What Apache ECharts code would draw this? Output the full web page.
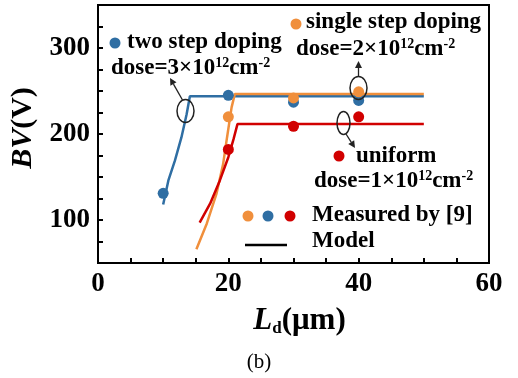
<!DOCTYPE html>
<html>
<head>
<meta charset="utf-8">
<script src="https://cdn.jsdelivr.net/npm/echarts@6/dist/echarts.min.js"></script>
<style>
  html, body { margin: 0; padding: 0; background: #fff; }
  #chart { width: 518px; height: 378px; }
</style>
</head>
<body>
<div id="chart"></div>
<script>
// measured breakdown voltage, [Ld (um), BV (V)]
const twoStepMeasured = [[10, 131], [20, 245], [30, 237], [40, 239]]
const singleStepMeasured = [[20, 220], [30, 242], [40, 249]]
const uniformMeasured = [[20, 182], [30, 209], [40, 220]]

// model curves
const twoStepModel = [[10, 118], [10.8, 146], [11.8, 169], [12.8, 196], [13.6, 223], [14.1, 244], [50, 244]]
const singleStepModel = [[15.1, 66], [16.7, 96], [18.2, 131], [19.2, 165], [19.8, 196], [20.5, 231], [21, 246.5], [50, 246.5]]
const uniformModel = [[15.6, 97], [17.2, 119], [18.7, 146], [20, 173], [20.8, 194], [21.4, 211.5], [50, 211.5]]

const xTicks = [0, 20, 40, 60]
const yTicks = [100, 200, 300]

const BLUE = '#2f6ea3'
const ORANGE = '#f08f3c'
const RED = '#d10000'
const FONT = '"Liberation Serif", "Times New Roman", serif'

const chart = echarts.init(document.getElementById('chart'))

const supRich = {
  sup: { fontSize: 14, fontWeight: 'bold', fontFamily: FONT, verticalAlign: 'top', padding: [0, 0, 10, 0] }
}

const label = (x, y, text, size) => ({
  type: 'text',
  z: 10,
  style: {
    x, y, text,
    fill: '#000',
    font: 'bold ' + (size || 23) + 'px ' + FONT,
    textVerticalAlign: 'middle',
    rich: supRich
  }
})

const dot = (cx, cy, color) => ({
  type: 'circle', z: 10,
  shape: { cx, cy, r: 5.5 },
  style: { fill: color }
})

const ellipse = (cx, cy, rx, ry) => ({
  type: 'ellipse', z: 10,
  shape: { cx, cy, rx, ry },
  style: { fill: null, stroke: '#222', lineWidth: 1.5 }
})

const arrow = (x1, y1, x2, y2) => {
  const a = Math.atan2(y2 - y1, x2 - x1)
  const L = 7, W = 3.5
  const bx = x2 - L * Math.cos(a), by = y2 - L * Math.sin(a)
  return [
    { type: 'line', z: 10, shape: { x1, y1, x2: bx, y2: by }, style: { stroke: '#222', lineWidth: 1.3 } },
    {
      type: 'polygon', z: 10,
      shape: { points: [[x2, y2], [bx - W * Math.sin(a), by + W * Math.cos(a)], [bx + W * Math.sin(a), by - W * Math.cos(a)]] },
      style: { fill: '#222' }
    }
  ]
}

const lineSeries = (name, data, color) => ({
  name, type: 'line', data,
  showSymbol: false,
  lineStyle: { color, width: 2.5 },
  z: 2
})

const scatterSeries = (name, data, color) => ({
  name, type: 'scatter', data,
  symbolSize: 11,
  itemStyle: { color, opacity: 1 },
  z: 3
})

const option = {
  animation: false,
  grid: {
    left: 98, right: 29, top: 5, bottom: 115,
    outerBoundsMode: 'none',
    containLabel: false,
    show: true, borderColor: '#000', borderWidth: 2
  },
  xAxis: {
    type: 'value', min: 0, max: 60, interval: 20,
    splitLine: { show: false },
    axisLine: { lineStyle: { color: '#000', width: 2 } },
    axisTick: { inside: true, length: 5, lineStyle: { width: 2 } },
    minorTick: { show: true, splitNumber: 4, length: 5, lineStyle: { color: '#000', width: 2 } },
    axisLabel: {
      color: '#000', fontFamily: FONT, fontWeight: 'bold', fontSize: 27, margin: 8,
      formatter: v => xTicks.includes(v) ? String(v) : ''
    },
    name: '{i|L}{sub|d}(μm)',
    nameLocation: 'middle',
    nameGap: 41,
    nameTextStyle: {
      color: '#000', fontFamily: FONT, fontWeight: 'bold', fontSize: 31,
      padding: [0, 0, 0, 12],
      rich: {
        i: { fontStyle: 'italic', fontWeight: 'bold', fontSize: 31, fontFamily: FONT },
        sub: { fontWeight: 'bold', fontSize: 17, fontFamily: FONT, verticalAlign: 'bottom', padding: [16, 0, 0, 0] }
      }
    }
  },
  yAxis: {
    type: 'value', min: 50, max: 350, interval: 50,
    splitLine: { show: false },
    axisLine: { lineStyle: { color: '#000', width: 2 } },
    axisTick: { inside: true, length: 5, lineStyle: { width: 2 } },
    minorTick: { show: true, splitNumber: 2, length: 5, lineStyle: { color: '#000', width: 2 } },
    axisLabel: {
      color: '#000', fontFamily: FONT, fontWeight: 'bold', fontSize: 27, margin: 8,
      formatter: v => yTicks.includes(v) ? String(v) : ''
    },
    name: '{i|BV}(V)',
    nameLocation: 'middle',
    nameRotate: 90,
    nameGap: 56,
    nameTextStyle: {
      color: '#000', fontFamily: FONT, fontWeight: 'bold', fontSize: 30,
      padding: [0, 0, 0, 12],
      rich: { i: { fontStyle: 'italic', fontWeight: 'bold', fontSize: 30, fontFamily: FONT } }
    }
  },
  series: [
    lineSeries('two step model', twoStepModel, BLUE),
    lineSeries('single step model', singleStepModel, ORANGE),
    lineSeries('uniform model', uniformModel, RED),
    scatterSeries('two step measured', twoStepMeasured, BLUE),
    scatterSeries('single step measured', singleStepMeasured, ORANGE),
    scatterSeries('uniform measured', uniformMeasured, RED)
  ],
  graphic: [
    dot(115, 43, BLUE),
    label(127, 42, 'two step doping'),
    label(111, 68, 'dose=3×10{sup|12}cm{sup|-2}'),
    dot(296, 24, ORANGE),
    label(306, 22, 'single step doping'),
    label(296, 49, 'dose=2×10{sup|12}cm{sup|-2}'),
    dot(339, 156, RED),
    label(356, 156, 'uniform'),
    label(314, 181, 'dose=1×10{sup|12}cm{sup|-2}'),
    dot(248, 216, ORANGE),
    dot(268, 216, BLUE),
    dot(290, 216, RED),
    label(312, 215, 'Measured by [9]'),
    { type: 'line', z: 10, shape: { x1: 245, y1: 245, x2: 287, y2: 245 }, style: { stroke: '#000', lineWidth: 2.5 } },
    label(312, 241, 'Model'),
    ellipse(185.5, 111, 8.5, 11.5),
    ...arrow(182.5, 100, 170, 78),
    ellipse(358.5, 88, 8.5, 11.5),
    ...arrow(358.5, 76.5, 358.5, 61),
    ellipse(343.5, 123, 6.5, 11.5),
    ...arrow(346, 134, 355, 148),
    {
      type: 'text', z: 10,
      style: { x: 259, y: 362, text: '(b)', fill: '#000', font: '21px ' + FONT, textAlign: 'center', textVerticalAlign: 'middle' }
    }
  ]
}

chart.setOption(option)
</script>
</body>
</html>
